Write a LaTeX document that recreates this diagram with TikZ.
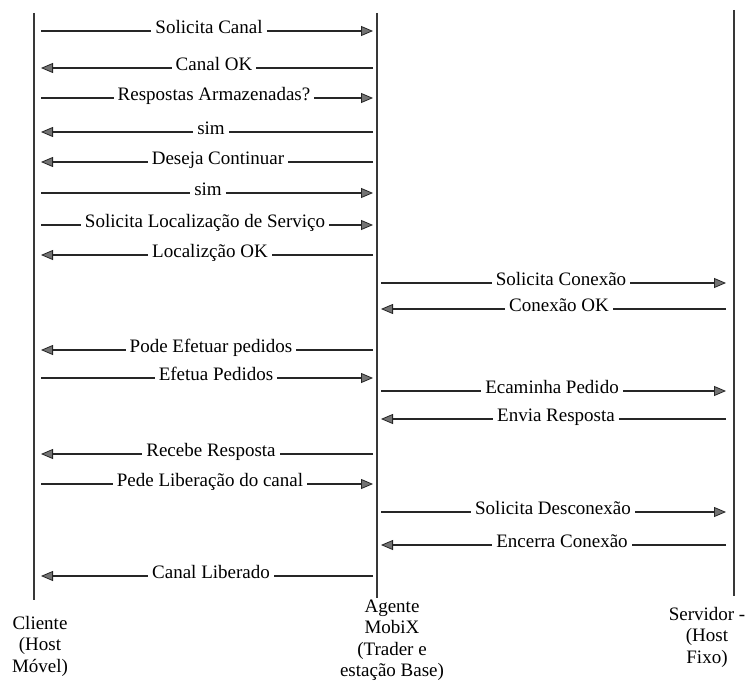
\documentclass[tikz,border=0pt]{standalone}
\usepackage{fontspec}
\setmainfont{Liberation Serif}
\usetikzlibrary{arrows.meta}
\tikzset{
  lifeline/.style={line width=2.6pt, draw=black!78},
  msgline/.style={line width=1.1pt, draw=black!85},
  tip/.style={-{Triangle[length=12pt,width=10pt,fill=black!55,line width=0.8pt]}},
  lbl/.style={font=\fontsize{19}{21.5}\selectfont, inner xsep=4pt, inner ysep=0pt, text height=0.45em, text depth=0pt},
  actor/.style={font=\fontsize{19}{21.5}\selectfont, align=center, inner sep=0pt}
}
% right-pointing message: name, x, y, from-coordinate, to-coordinate, text
\newcommand\msgright[6]{%
  \node[lbl] (#1) at (#2,#3) {#6};
  \draw[msgline] (#4 |- #1) -- (#1.west);
  \draw[msgline,tip] (#1.east) -- (#5 |- #1);
}
% left-pointing message: name, x, y, from-coordinate (right), to-coordinate (left), text
\newcommand\msgleft[6]{%
  \node[lbl] (#1) at (#2,#3) {#6};
  \draw[msgline] (#4 |- #1) -- (#1.east);
  \draw[msgline,tip] (#1.west) -- (#5 |- #1);
}
\begin{document}
\begin{tikzpicture}[x=1pt,y=-1pt]
\useasboundingbox (0,0) rectangle (749,682);
% lifelines
\coordinate (cTop) at (34,13);  \coordinate (cBot) at (34,600);
\coordinate (aTop) at (377,13); \coordinate (aBot) at (377,598);
\coordinate (sTop) at (734,10); \coordinate (sBot) at (734,596);
\draw[lifeline] (cTop) -- (cBot);
\draw[lifeline] (aTop) -- (aBot);
\draw[lifeline] (sTop) -- (sBot);
% arrow end columns
\coordinate (cx) at (41,0);
\coordinate (axl) at (373,0);
\coordinate (axr) at (381,0);
\coordinate (sx) at (726,0);
% messages
\msgright{m1}{209}{31}{cx}{axl}{Solicita Canal}
\msgleft{m2}{214}{68}{axl}{cx}{Canal OK}
\msgright{m3}{214}{98}{cx}{axl}{Respostas Armazenadas?}
\msgleft{m4}{211}{132}{axl}{cx}{sim}
\msgleft{m5}{218}{162}{axl}{cx}{Deseja Continuar}
\msgright{m6}{208}{193}{cx}{axl}{sim}
\msgright{m7}{205}{225}{cx}{axl}{Solicita Localização de Serviço}
\msgleft{m8}{210}{255}{axl}{cx}{Localizção OK}
\msgright{m9}{561}{283}{axr}{sx}{Solicita Conexão}
\msgleft{m10}{559}{309}{sx}{axr}{Conexão OK}
\msgleft{m11}{211}{350}{axl}{cx}{Pode Efetuar pedidos}
\msgright{m12}{216}{378}{cx}{axl}{Efetua Pedidos}
\msgright{m13}{552}{391}{axr}{sx}{Ecaminha Pedido}
\msgleft{m14}{556}{419}{sx}{axr}{Envia Resposta}
\msgleft{m15}{211}{454}{axl}{cx}{Recebe Resposta}
\msgright{m16}{210}{484}{cx}{axl}{Pede Liberação do canal}
\msgright{m17}{553}{512}{axr}{sx}{Solicita Desconexão}
\msgleft{m18}{562}{545}{sx}{axr}{Encerra Conexão}
\msgleft{m19}{211}{576}{axl}{cx}{Canal Liberado}
% actors
\node[actor] (cliente) at (40,646) {Cliente\\(Host\\Móvel)};
\node[actor] (agente) at (392,640) {Agente\\MobiX\\(Trader e\\estação Base)};
\node[actor] (servidor) at (707,637) {Servidor -\\(Host\\Fixo)};
\end{tikzpicture}
\end{document}
